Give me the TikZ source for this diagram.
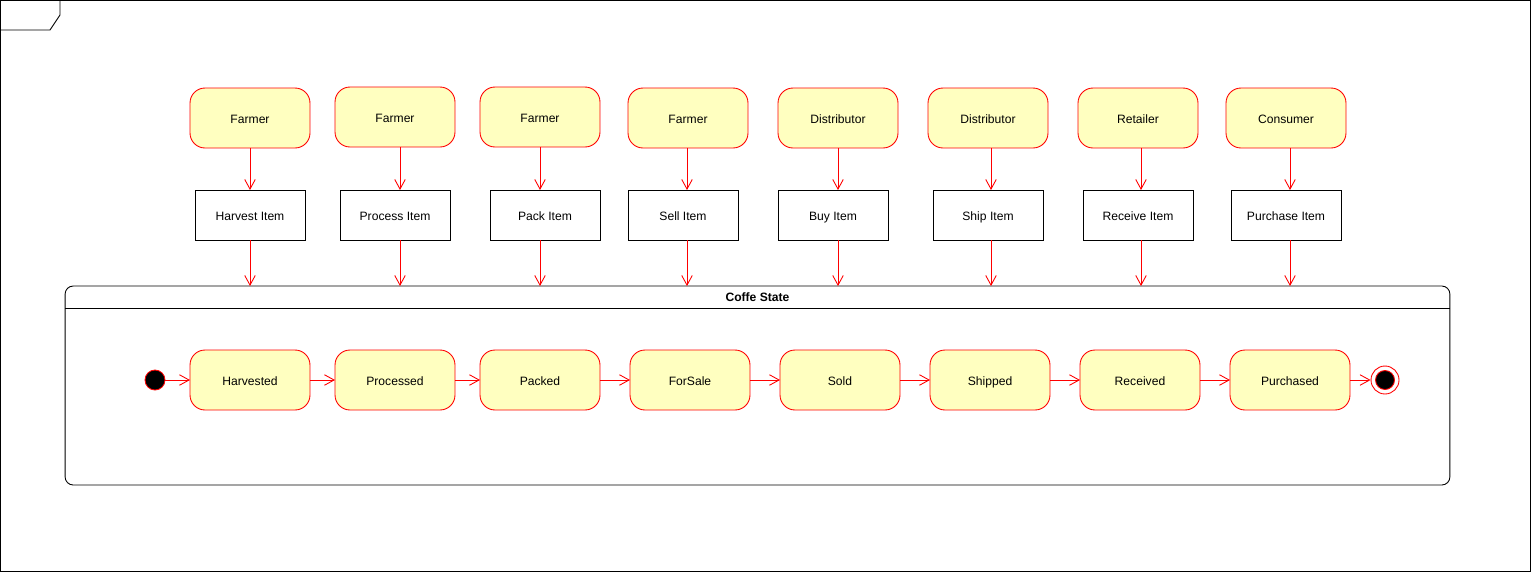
\documentclass[tikz,border=0pt]{standalone}
\usepackage{fontspec}
\setmainfont{Liberation Sans}
\usepackage{xcolor}
\usetikzlibrary{positioning,arrows.meta}
\definecolor{stfill}{HTML}{FFFFC0}
\definecolor{stline}{HTML}{FF0000}

\begin{document}
\begin{tikzpicture}[x=0.02cm,y=-0.02cm,line width=0.5pt,
  font=\fontsize{6.9}{8.3}\selectfont,
  actor/.style={draw=stline,fill=stfill,rounded corners=0.3cm,minimum width=2.4cm,minimum height=1.2cm,inner sep=0pt,outer sep=0pt,text height=1.6ex,text depth=0.45ex},
  action/.style={draw=black,fill=white,minimum width=2.2cm,minimum height=1cm,inner sep=0pt,outer sep=0pt,text height=1.6ex,text depth=0.45ex},
  flow/.style={draw=stline,-{Straight Barb[length=5.5pt,width=6pt]}}]
\useasboundingbox (0,0) rectangle (1531,572);
% frame
\draw (0.5,0.5) rectangle (1530,571);
\draw (0.5,30) -- (50,30) -- (60,15) -- (60,0.5);
% roles
\node[actor] (r1) at (250,118) {Farmer};
\node[actor] (r2) at (395,117) {Farmer};
\node[actor] (r3) at (540,117) {Farmer};
\node[actor] (r4) at (688,118) {Farmer};
\node[actor] (r5) at (838,118) {Distributor};
\node[actor] (r6) at (988,118) {Distributor};
\node[actor] (r7) at (1138,118) {Retailer};
\node[actor] (r8) at (1286,118) {Consumer};
% actions
\node[action] (a1) at (250,215) {Harvest Item};
\node[action] (a2) at (395,215) {Process Item};
\node[action] (a3) at (545,215) {Pack Item};
\node[action] (a4) at (683,215) {Sell Item};
\node[action] (a5) at (833,215) {Buy Item};
\node[action] (a6) at (988,215) {Ship Item};
\node[action] (a7) at (1138,215) {Receive Item};
\node[action] (a8) at (1286,215) {Purchase Item};
% container
\node[draw,rounded corners=0.16cm,minimum width=27.7cm,minimum height=3.98cm,inner sep=0pt,outer sep=0pt] (cs) at (757.5,385.5) {};
\draw ([yshift=-0.44cm]cs.north west) -- ([yshift=-0.44cm]cs.north east);
\node[font=\fontsize{6.9}{8.3}\selectfont\bfseries] (cstitle) at ([yshift=-0.22cm]cs.north) {Coffe State};
% states
\node[actor] (s1) at (250,380) {Harvested};
\node[actor] (s2) at (395,380) {Processed};
\node[actor] (s3) at (540,380) {Packed};
\node[actor] (s4) at (690,380) {ForSale};
\node[actor] (s5) at (840,380) {Sold};
\node[actor] (s6) at (990,380) {Shipped};
\node[actor] (s7) at (1140,380) {Received};
\node[actor] (s8) at (1290,380) {Purchased};
\node[circle,fill=black,draw=stline,minimum size=0.4cm,inner sep=0pt] (init) at (155,380) {};
\node[circle,draw=stline,fill=white,minimum size=0.56cm,inner sep=0pt] (fin) at (1385,380) {};
\filldraw[fill=black,draw=stline] (fin.center) circle (0.19cm);
% arrows
\foreach \i/\dx in {1/0,2/5,3/0,4/-1,5/0,6/3,7/3,8/4}{
  \draw[flow] ([xshift=\dx*0.02cm]r\i.south) -- ([xshift=\dx*0.02cm]r\i.south |- a\i.north);
  \draw[flow] ([xshift=\dx*0.02cm]r\i.south |- a\i.south) -- ([xshift=\dx*0.02cm]r\i.south |- cs.north);
}
\draw[flow] (init) -- (s1);
\foreach \i/\j in {1/2,2/3,3/4,4/5,5/6,6/7,7/8}
  \draw[flow] (s\i) -- (s\j);
\draw[flow] (s8) -- (fin);
\end{tikzpicture}
\end{document}
